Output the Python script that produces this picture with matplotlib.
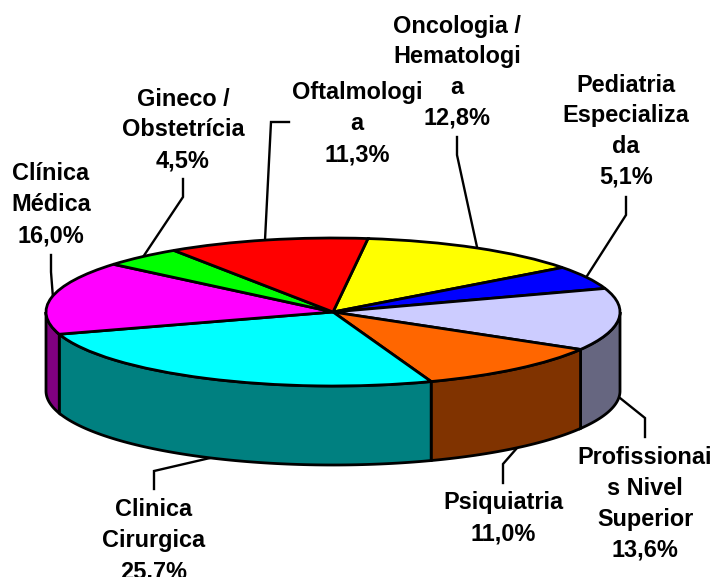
"""3D-look pie of patient share per speciality (pt-BR labels)."""
import numpy as np
import matplotlib
matplotlib.use("Agg")
import matplotlib.pyplot as plt

W, H = 716, 577
CX, CY = 333, 312      # pie centre, pixels
RX, RY = 287, 74       # ellipse radii, pixels
DEPTH = 79 / RY        # side wall height in data units

labels = ["Oncologia /\nHematologi\na\n12,8%", "Pediatria\nEspecializa\nda\n5,1%",
          "Profissionai\ns Nivel\nSuperior\n13,6%", "Psiquiatria\n11,0%",
          "Clinica\nCirurgica\n25,7%", "Clínica\nMédica\n16,0%",
          "Gineco /\nObstetrícia\n4,5%", "Oftalmologi\na\n11,3%"]
values = [12.8, 5.1, 13.6, 11.0, 25.7, 16.0, 4.5, 11.3]
top_colors = ["#FFFF00", "#0000FF", "#CCCCFF", "#FF6600", "#00FFFF", "#FF00FF", "#00FF00", "#FF0000"]
side_colors = ["#808000", "#000080", "#666680", "#803300", "#008080", "#800080", "#008000", "#800000"]
# clockwise from top, start of first slice (degrees)
first_angle = 7

# label centre x, first line y (pixels)
label_pos = [(457, 26), (626, 85), (645, 458), (503, 503), (154, 510), (51, 174), (183, 99), (357, 93)]
LINE_STEP = 30.8
# leader lines, pixels
leaders = [
    [(457, 137), (457, 155), (477, 247)],
    [(626, 197), (626, 215), (587, 276)],
    [(645, 437), (645, 418), (620, 398)],
    [(503, 483), (503, 464), (517, 448)],
    [(154, 489), (154, 471), (210, 458)],
    [(51, 255), (51, 272), (53, 298)],
    [(183, 179), (183, 197), (143, 257)],
    [(289, 122), (271, 122), (265, 240)],
]


def px(x, y):
    return (x - CX) / RX, (CY - y) / RY


fig = plt.figure(figsize=(W / 100, H / 100), dpi=100)
ax = fig.add_axes([0, 0, 1, 1])

edges = first_angle + np.cumsum([0] + values) * 3.6   # clockwise from top

# side walls first, only the part facing the viewer (90..270 from top)
for v0, v1, c in zip(edges[:-1], edges[1:], side_colors):
    a0, a1 = max(v0, 90), min(v1, 270)
    if a1 <= a0:
        continue
    t = np.radians(np.linspace(a0, a1, 80))
    x, y = np.sin(t), np.cos(t)
    ax.fill(np.r_[x, x[::-1]], np.r_[y, y[::-1] - DEPTH], fc=c, ec="black", lw=2.0, zorder=2)

ax.pie(values, colors=top_colors, startangle=90 - first_angle, counterclock=False,
       radius=1, wedgeprops=dict(edgecolor="black", linewidth=2.0, zorder=3))
ax.set_aspect("auto")
ax.set_xlim(px(0, 0)[0], px(W, 0)[0])
ax.set_ylim(px(0, H)[1], px(0, 0)[1])
ax.axis("off")

# leaders sit behind the pie so they stop at its outline
for pts in leaders:
    d = np.array([px(*p) for p in pts])
    ax.plot(d[:, 0], d[:, 1], color="black", lw=1.7, zorder=1, solid_joinstyle="miter")

for text, (lx, ly) in zip(labels, label_pos):
    for i, line in enumerate(text.split("\n")):
        ax.text(*px(lx, ly + i * LINE_STEP), line, ha="center", va="center", fontsize=16.9,
                fontweight="bold", family="Liberation Sans", color="black", zorder=4,
                clip_on=False)

fig.savefig("out.png", dpi=100)
